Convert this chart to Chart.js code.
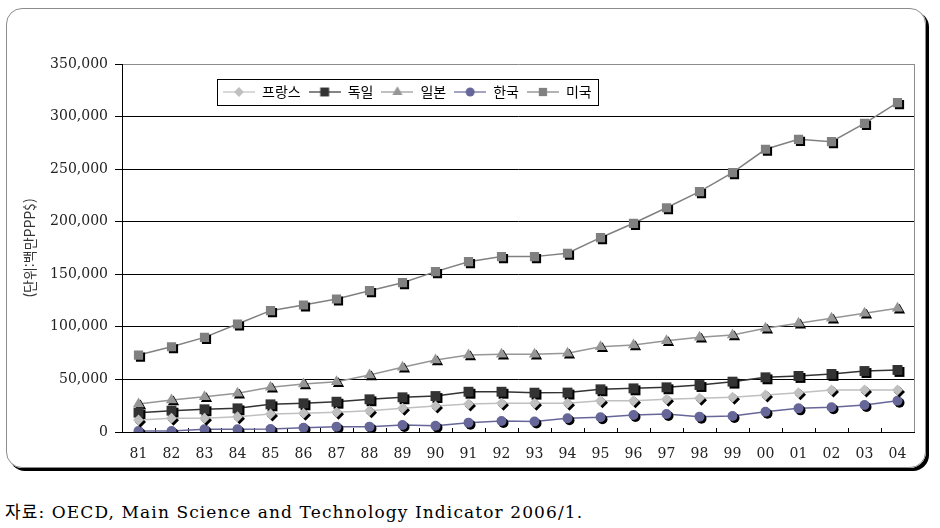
<!DOCTYPE html>
<html lang="ko">
<head>
<meta charset="utf-8">
<title>주요국 연구개발비 추이</title>
<script src="https://cdn.jsdelivr.net/npm/chart.js@4.4.1/dist/chart.umd.min.js"></script>
<style>
  html, body { margin: 0; padding: 0; background: #fff; }
  body { width: 940px; height: 528px; position: relative; overflow: hidden; }
  #frame {
    position: absolute; left: 6px; top: 8px; width: 918px; height: 458px;
    border: 1px solid #8c8c8c; border-radius: 16px; box-shadow: 3px 3px 0 #000;
  }
  #wrap { position: absolute; left: 0; top: 0; width: 940px; height: 476px; }
  #source {
    position: absolute; left: 5px; top: 498px; white-space: nowrap;
    font: 17px "DejaVu Serif", "Noto Sans CJK KR", serif; letter-spacing: 1.1px; color: #000;
  }
</style>
</head>
<body>
<div id="frame"></div>
<div id="wrap"><canvas id="rndChart" width="940" height="476"></canvas></div>
<div id="source">자료: OECD, Main Science and Technology Indicator 2006/1.</div>

<script>
// --- 데이터 (단위: 백만 PPP$) ---
const years = ['81', '82', '83', '84', '85', '86', '87', '88', '89', '90', '91', '92',
               '93', '94', '95', '96', '97', '98', '99', '00', '01', '02', '03', '04'];

const france  = [11400, 13000, 13000, 14600, 17100, 17800, 18700, 20300, 22500, 24700, 26600, 27300,
                 27300, 27300, 29800, 29800, 31100, 32000, 33000, 35200, 37400, 39900, 39900, 39900];
const germany = [18400, 20300, 21600, 22500, 26300, 27300, 28800, 31100, 33000, 34200, 38300, 38300,
                 37400, 37500, 40600, 41500, 42500, 44700, 47900, 52000, 53300, 55200, 58000, 59000];
const japan   = [26600, 30400, 33600, 36800, 42500, 45600, 47900, 54200, 61500, 68500, 73200, 74000,
                 74000, 74800, 81100, 82700, 86800, 90000, 92300, 98600, 103400, 108100, 112900, 117600];
const korea   = [1000, 1000, 2500, 2500, 2900, 4100, 5100, 5100, 6700, 6000, 8900, 10500,
                 10000, 13000, 14000, 16200, 17100, 14600, 15200, 19300, 22500, 23500, 25700, 29800];
const usa     = [73200, 81100, 90000, 102700, 115400, 120800, 126500, 134400, 142000, 152500, 162000, 166800,
                 166800, 170000, 184800, 198500, 213300, 228600, 246600, 268900, 278400, 276100, 293600, 313200];

const yMax = 350000;
const yStep = 50000;

// 마커에 검은 그림자 (선에는 그림자 없음)
const PointEl = Chart.elements.PointElement;
const basePointDraw = PointEl.prototype.draw;
PointEl.prototype.draw = function (ctx, area) {
    ctx.save();
    ctx.shadowColor = '#000';
    ctx.shadowOffsetX = 2;
    ctx.shadowOffsetY = 2;
    ctx.shadowBlur = 0;
    basePointDraw.call(this, ctx, area);
    ctx.restore();
};

function series(label, data, color, style, radius) {
    return {
        label, data,
        borderColor: color,
        borderWidth: 1.5,
        pointStyle: style,
        pointRadius: radius,
        pointBackgroundColor: color,
        pointBorderWidth: 0,
        tension: 0
    };
}

// 범례용 선+마커 아이콘
function legendIcon(ds) {
    const c = document.createElement('canvas');
    c.width = 32; c.height = 14;
    const g = c.getContext('2d');
    g.strokeStyle = ds.borderColor;
    g.lineWidth = 1.2;
    g.beginPath(); g.moveTo(0, 7); g.lineTo(32, 7); g.stroke();
    g.fillStyle = ds.pointBackgroundColor;
    Chart.helpers.drawPoint(g, { pointStyle: ds.pointStyle, radius: ds.pointRadius * 0.9, rotation: 0, borderWidth: 0 }, 16, 7);
    return c;
}

// 범례를 플롯 안으로 옮기고 테두리 그리기
const legendInPlot = {
    id: 'legendInPlot',
    afterLayout(chart) {
        const lg = chart.legend, a = chart.chartArea;
        lg.left = a.left + 93;
        lg.top = a.top + 13;
        lg.width = 460; lg.height = 30;
        lg.right = lg.left + lg.width;
        lg.bottom = lg.top + lg.height;
    },
    afterDraw(chart) {
        const ctx = chart.ctx, a = chart.chartArea;
        // 플롯 오른쪽 테두리
        ctx.save();
        ctx.strokeStyle = '#8c8c8c';
        ctx.lineWidth = 1;
        ctx.beginPath();
        ctx.moveTo(Math.round(a.right) + 0.5, a.top);
        ctx.lineTo(Math.round(a.right) + 0.5, a.bottom);
        ctx.stroke();

        const hb = chart.legend.legendHitBoxes;
        if (hb && hb.length) {
            const x0 = Math.min(...hb.map(h => h.left)) - 6;
            const x1 = Math.max(...hb.map(h => h.left + h.width)) + 6;
            const y0 = hb[0].top - 6;
            const y1 = hb[0].top + hb[0].height + 6;
            ctx.strokeStyle = '#000';
            ctx.strokeRect(Math.round(x0) + 0.5, Math.round(y0) + 0.5, Math.round(x1 - x0), Math.round(y1 - y0));
        }
        ctx.restore();
    }
};

const tickFont = { family: '"DejaVu Serif", serif', size: 14 };

new Chart(document.getElementById('rndChart'), {
    type: 'line',
    data: {
        labels: years,
        datasets: [
            series('프랑스', france, '#c0c0c0', 'rectRot', 5.5),
            series('독일', germany, '#333333', 'rect', 7),
            series('일본', japan, '#969696', 'triangle', 6.5),
            series('한국', korea, '#666699', 'circle', 5),
            series('미국', usa, '#808080', 'rect', 6.5)
        ]
    },
    options: {
        responsive: false,
        animation: false,
        events: [],
        layout: { padding: { top: 63, left: 21, right: 26, bottom: 10 } },
        scales: {
            x: {
                offset: true,
                afterFit: s => { s.height = 34; },
                grid: { display: true, drawOnChartArea: false, offset: true, tickLength: -4, color: '#000' },
                border: { color: '#000' },
                ticks: { padding: 18, color: '#222', font: tickFont, maxRotation: 0, autoSkip: false }
            },
            y: {
                min: 0, max: yMax,
                afterFit: s => { s.width = 101; },
                grid: {
                    color: c => (c.tick && c.tick.value === yMax ? '#8c8c8c' : '#000'),
                    tickColor: '#000',
                    tickLength: 7
                },
                border: { color: '#000' },
                ticks: {
                    stepSize: yStep, padding: 7, color: '#222', font: tickFont,
                    callback: v => v.toLocaleString('en-US')
                },
                title: {
                    display: true,
                    text: '(단위:백만PPP$)',
                    color: '#333',
                    font: { family: '"Noto Sans CJK KR", sans-serif', size: 14 },
                    padding: { top: 0, bottom: 0 }
                }
            }
        },
        plugins: {
            legend: {
                position: 'top',
                align: 'start',
                maxHeight: 1,
                labels: {
                    usePointStyle: true,
                    pointStyleWidth: 32,
                    padding: 8,
                    color: '#000',
                    font: { family: '"Noto Sans CJK KR", sans-serif', size: 14 },
                    generateLabels: chart => chart.data.datasets.map((ds, i) => ({
                        text: ds.label,
                        pointStyle: legendIcon(ds),
                        datasetIndex: i,
                        hidden: false,
                        fillStyle: 'transparent',
                        strokeStyle: 'transparent',
                        lineWidth: 0,
                        fontColor: '#000'
                    }))
                }
            },
            tooltip: { enabled: false }
        }
    },
    plugins: [legendInPlot]
});
</script>
</body>
</html>
